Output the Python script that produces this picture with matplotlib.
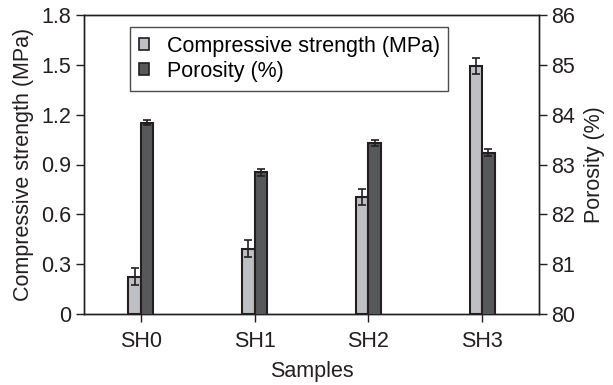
import matplotlib
matplotlib.use("Agg")
import matplotlib.pyplot as plt
import numpy as np
from matplotlib.patches import Patch

plt.rcParams['font.family'] = ['Liberation Sans', 'DejaVu Sans']

samples = ["SH0", "SH1", "SH2", "SH3"]
strength = [0.225, 0.393, 0.706, 1.493]
strength_err = [0.05, 0.05, 0.048, 0.046]
porosity = [83.84, 82.84, 83.44, 83.24]
porosity_err = [0.045, 0.066, 0.06, 0.07]

light = "#bfc0c4"
dark = "#56585a"
edge = "#231f20"
FS = 15.5

fig = plt.figure(figsize=(6.13, 3.85), dpi=100)
ax = fig.add_axes([84/613, 1-314/385, (539-84)/613, (314-15)/385])
ax2 = ax.twinx()

x = np.arange(len(samples))
w = 0.11
ekw = dict(ecolor=edge, elinewidth=1.2, capsize=2.6, capthick=1.2)
ax.bar(x - w/2, strength, w, color=light, edgecolor=edge, linewidth=1.5,
       yerr=strength_err, error_kw=ekw, zorder=3)
ax2.bar(x + w/2, porosity, w, bottom=0, color=dark, edgecolor=edge, linewidth=1.5,
        yerr=porosity_err, error_kw=ekw, zorder=3)

ax.set_xlim(-0.5, 3.5)
ax.set_ylim(0, 1.8)
ax2.set_ylim(80, 86)
ax.set_yticks([0, 0.3, 0.6, 0.9, 1.2, 1.5, 1.8])
ax.set_yticklabels(["0", "0.3", "0.6", "0.9", "1.2", "1.5", "1.8"])
ax2.set_yticks([80, 81, 82, 83, 84, 85, 86])
ax.set_xticks(x)
ax.set_xticklabels(samples)

for a in (ax, ax2):
    a.tick_params(direction='out', length=6, width=1, colors=edge, labelsize=FS, labelcolor=edge, pad=3)
    for s in a.spines.values():
        s.set_color(edge)
        s.set_linewidth(1)
ax.tick_params(axis='x', length=6, pad=6)

ax.set_xlabel("Samples", fontsize=FS, color=edge, labelpad=7)
ax.set_ylabel("Compressive strength (MPa)", fontsize=FS, color=edge, labelpad=5)
ax2.set_ylabel("Porosity (%)", fontsize=FS, color=edge, labelpad=6)

handles = [Patch(facecolor=light, edgecolor=edge, linewidth=1.2, label="Compressive strength (MPa)"),
           Patch(facecolor=dark, edgecolor=edge, linewidth=1.2, label="Porosity (%)")]
leg = ax2.legend(handles=handles, loc='upper left', bbox_to_anchor=((130-84)/455, 1-(27-15)/299),
                 fontsize=FS, frameon=True, fancybox=False, edgecolor=edge,
                 handlelength=0.5, handleheight=0.5, handletextpad=0.8, borderpad=0.4,
                 labelspacing=0.2, borderaxespad=0)
leg.get_frame().set_linewidth(1)

fig.savefig("out.png", dpi=100)
